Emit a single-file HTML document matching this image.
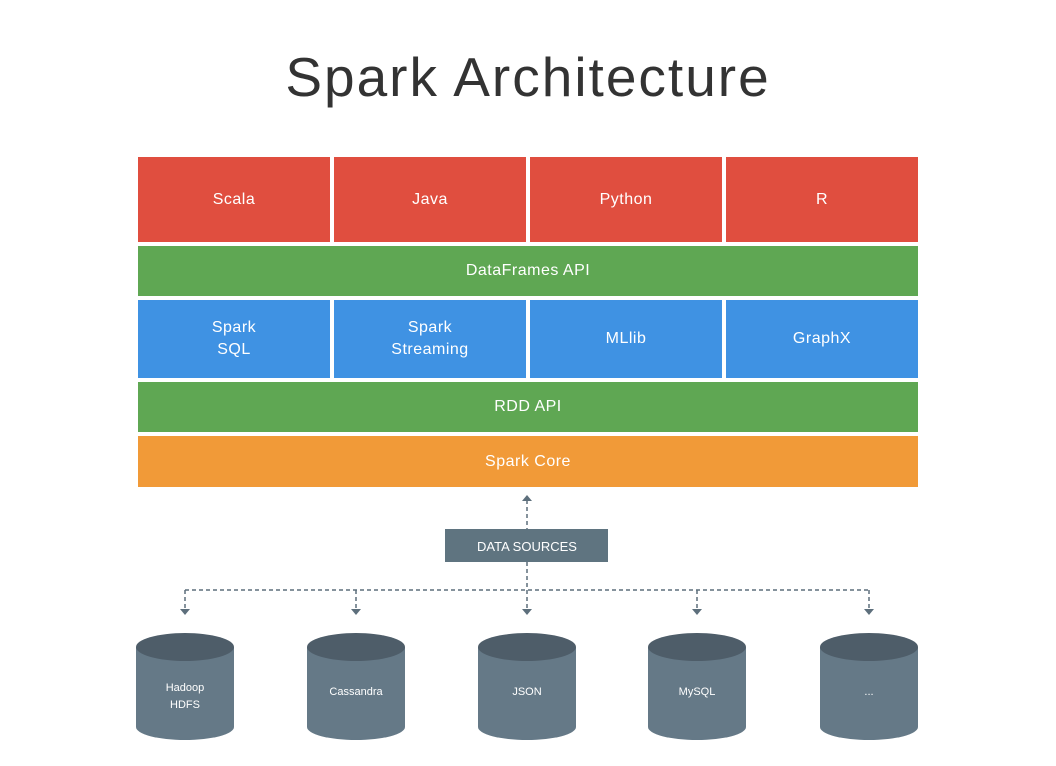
<!DOCTYPE html>
<html><head><style>
body{margin:0;background:#fff;width:1056px;height:766px;overflow:hidden;font-family:"Liberation Sans",sans-serif}
.b{position:absolute;color:#fff;display:flex;align-items:center;justify-content:center;text-align:center;font-size:16px;line-height:22px;letter-spacing:0.5px}
.r{background:#e04e3f}.g{background:#5fa753}.bl{background:#3f92e3}.o{background:#f19a38}
</style></head><body>
<div style="position:absolute;left:0;width:1056px;top:45px;text-align:center;font-size:55px;line-height:64px;color:#333;letter-spacing:2px">Spark Architecture</div>
<div class="b r" style="left:138px;top:157px;width:192px;height:85px">Scala</div>
<div class="b r" style="left:334px;top:157px;width:192px;height:85px">Java</div>
<div class="b r" style="left:530px;top:157px;width:192px;height:85px">Python</div>
<div class="b r" style="left:726px;top:157px;width:192px;height:85px">R</div>
<div class="b g" style="left:138px;top:246px;width:780px;height:50px">DataFrames API</div>
<div class="b bl" style="left:138px;top:300px;width:192px;height:78px">Spark<br>SQL</div>
<div class="b bl" style="left:334px;top:300px;width:192px;height:78px">Spark<br>Streaming</div>
<div class="b bl" style="left:530px;top:300px;width:192px;height:78px">MLlib</div>
<div class="b bl" style="left:726px;top:300px;width:192px;height:78px">GraphX</div>
<div class="b g" style="left:138px;top:382px;width:780px;height:50px">RDD API</div>
<div class="b o" style="left:138px;top:436px;width:780px;height:51px">Spark Core</div>
<svg width="1056" height="766" style="position:absolute;left:0;top:0">
<g stroke="#5d6f7c" stroke-width="1.5" stroke-dasharray="4,3" fill="none">
<line x1="527" y1="500" x2="527" y2="529"/>
<line x1="527" y1="562" x2="527" y2="610"/>
<line x1="185" y1="590" x2="869" y2="590"/>
<line x1="185" y1="590" x2="185" y2="610"/><line x1="356" y1="590" x2="356" y2="610"/>
<line x1="697" y1="590" x2="697" y2="610"/><line x1="869" y1="590" x2="869" y2="610"/>
</g>
<g fill="#5d6f7c">
<path d="M522,501 L532,501 L527,495Z"/>
<path d="M180,609 L190,609 L185,615Z"/><path d="M351,609 L361,609 L356,615Z"/>
<path d="M522,609 L532,609 L527,615Z"/><path d="M692,609 L702,609 L697,615Z"/>
<path d="M864,609 L874,609 L869,615Z"/>
</g>
<rect x="445" y="529" width="163" height="33" fill="#5f7480"/>
<text x="527" y="551" fill="#fff" font-size="13" text-anchor="middle" font-family="Liberation Sans">DATA SOURCES</text>
<g font-family="Liberation Sans" font-size="11" fill="#fff" text-anchor="middle">
<g transform="translate(185,0)"><path d="M-49,647 L-49,727 A49,13 0 0 0 49,727 L49,647Z" fill="#657987"/><ellipse cx="0" cy="647" rx="49" ry="14" fill="#4e5d69"/><text y="691">Hadoop</text><text y="708">HDFS</text></g>
<g transform="translate(356,0)"><path d="M-49,647 L-49,727 A49,13 0 0 0 49,727 L49,647Z" fill="#657987"/><ellipse cx="0" cy="647" rx="49" ry="14" fill="#4e5d69"/><text y="695">Cassandra</text></g>
<g transform="translate(527,0)"><path d="M-49,647 L-49,727 A49,13 0 0 0 49,727 L49,647Z" fill="#657987"/><ellipse cx="0" cy="647" rx="49" ry="14" fill="#4e5d69"/><text y="695">JSON</text></g>
<g transform="translate(697,0)"><path d="M-49,647 L-49,727 A49,13 0 0 0 49,727 L49,647Z" fill="#657987"/><ellipse cx="0" cy="647" rx="49" ry="14" fill="#4e5d69"/><text y="695">MySQL</text></g>
<g transform="translate(869,0)"><path d="M-49,647 L-49,727 A49,13 0 0 0 49,727 L49,647Z" fill="#657987"/><ellipse cx="0" cy="647" rx="49" ry="14" fill="#4e5d69"/><text y="695">...</text></g>
</g>
</svg>
</body></html>
